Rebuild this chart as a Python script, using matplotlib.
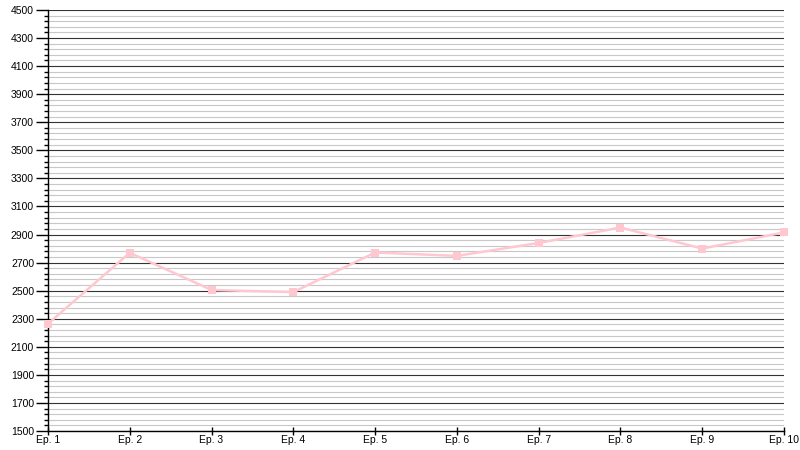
import matplotlib.pyplot as plt
from matplotlib.ticker import FixedLocator

plt.rcParams['font.family'] = ['Liberation Sans', 'DejaVu Sans']

episodes = ['Ep. 1', 'Ep. 2', 'Ep. 3', 'Ep. 4', 'Ep. 5', 'Ep. 6', 'Ep. 7', 'Ep. 8', 'Ep. 9', 'Ep. 10']
values = [2265, 2770, 2505, 2490, 2772, 2748, 2840, 2950, 2800, 2915]

fig = plt.figure(figsize=(8, 4.5), dpi=100)
ax = fig.add_axes([0.06, 0.042, 0.92, 0.936])

x = list(range(len(episodes)))
ax.plot(x, values, color='#ffc8d0', linewidth=1.8, marker='s', markersize=6,
        markeredgewidth=0, zorder=3, clip_on=False)

ax.set_xlim(0, len(episodes) - 1)
ax.set_ylim(1500, 4500)
ax.set_xticks(x)
ax.set_xticklabels(episodes)
ax.yaxis.set_major_locator(FixedLocator(range(1500, 4501, 200)))
ax.yaxis.set_minor_locator(FixedLocator(range(1500, 4501, 40)))

ax.grid(axis='y', which='major', color='#333333', linewidth=0.8)
ax.grid(axis='y', which='minor', color='#c8c8c8', linewidth=0.8)
ax.set_axisbelow(True)

for s in ['top', 'right']:
    ax.spines[s].set_visible(False)
for s in ['left', 'bottom']:
    ax.spines[s].set_color('black')
    ax.spines[s].set_linewidth(1)

ax.tick_params(axis='y', which='major', length=9, width=1, labelsize=7.5, pad=1)
ax.tick_params(axis='y', which='minor', length=3, width=1)
ax.tick_params(axis='x', which='major', direction='inout', length=6, width=1,
               labelsize=7.5, pad=0)

plt.savefig('out.png', dpi=100)
